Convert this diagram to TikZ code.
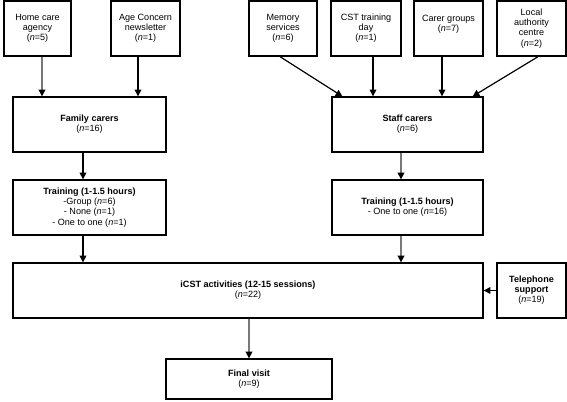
\documentclass[tikz,border=0pt]{standalone}
\usepackage{fontspec}
\setmainfont{Liberation Sans}
\usetikzlibrary{arrows.meta,calc}
\definecolor{lgray}{RGB}{120,120,120}
\tikzset{
 box/.style={draw=black, line width=1pt, rectangle, inner sep=0pt, align=center,
   font=\fontsize{6.8}{7.6}\selectfont},
 sz/.style 2 args={minimum width=#1*0.75pt, minimum height=#2*0.75pt},
 arr/.style={draw=black, line width=0.9pt, -{Triangle[length=5pt,width=5pt,black]}},
 garr/.style={arr, draw=lgray, line width=1.1pt}
}
\newcommand{\nn}[1]{(\textit{n}=#1)}
\begin{document}
\begin{tikzpicture}[x=0.75pt,y=-0.75pt]
\useasboundingbox (0,0) rectangle (567,401);
% top row
\node[box, sz={67}{55}] (home)  at (37.5,28.5) {Home care\\agency\\\nn{5}};
\node[box, sz={69}{55}] (age)   at (145.5,28.5) {Age Concern\\newsletter\\\nn{1}};
\node[box, sz={68}{55}] (mem)   at (283,28.5) {Memory\\services\\\nn{6}};
\node[box, sz={70}{55}] (cst)   at (366,28.5) {CST training\\day\\\nn{1}};
\node[box, sz={69}{55}] (carer) at (448.5,28.5) {Carer groups\\\nn{7}\\\mbox{}};
\node[box, sz={69}{55}] (local) at (531.5,28.5) {Local\\authority\\centre\\\nn{2}};
% carers
\node[box, sz={153}{55}] (fam)   at (89.5,124.5) {\textbf{Family carers}\\\nn{16}};
\node[box, sz={151}{55}] (staff) at (407.5,124.5) {\textbf{Staff carers}\\\nn{6}};
% training
\node[box, sz={153}{55}] (trf) at (89.5,207.5) {\textbf{Training (1-1.5 hours)}\\-Group \nn{6}\\- None \nn{1}\\- One to one \nn{1}};
\node[box, sz={151}{55}] (trs) at (407.5,207.5) {\textbf{Training (1-1.5 hours)}\\- One to one \nn{16}};
% activities
\node[box, sz={470}{55}] (icst) at (248,290.5) {\textbf{iCST activities (12-15 sessions)}\\\nn{22}};
\node[box, sz={69}{55}] (tel) at (531.5,290.5) {\textbf{Telephone}\\\textbf{support}\\\nn{19}};
\node[box, sz={166}{40}] (fin) at (249,379) {\textbf{Final visit}\\\nn{9}};
% connectors
\draw[garr] ($(home.south)+(4.5,0)$) coordinate (a1) -- (a1 |- fam.north);
\draw[arr] ($(age.south)+(-7.5,0)$) coordinate (a2) -- (a2 |- fam.north);
\draw[arr] ($(mem.south)+(-3,0)$) -- ($(staff.north west)+(11,0)$);
\draw[arr] ($(cst.south)+(7,0)$) coordinate (a3) -- (a3 |- staff.north);
\draw[arr] ($(carer.south)+(-6.5,0)$) coordinate (a4) -- (a4 |- staff.north);
\draw[arr] ($(local.south)+(6.5,0)$) -- ($(staff.north east)+(-11,0)$);
\draw[arr] ($(fam.south)+(-6.5,0)$) coordinate (a5) -- (a5 |- trf.north);
\draw[garr] ($(staff.south)+(-6.5,0)$) coordinate (a6) -- (a6 |- trs.north);
\draw[arr] ($(trf.south)+(-6.5,0)$) coordinate (a7) -- (a7 |- icst.north);
\draw[garr] ($(trs.south)+(-6.5,0)$) coordinate (a8) -- (a8 |- icst.north);
\draw[garr] (icst.south -| fin.north) -- (fin.north);
\draw[arr] (tel.west) -- (tel.west -| icst.east);
\end{tikzpicture}
\end{document}
